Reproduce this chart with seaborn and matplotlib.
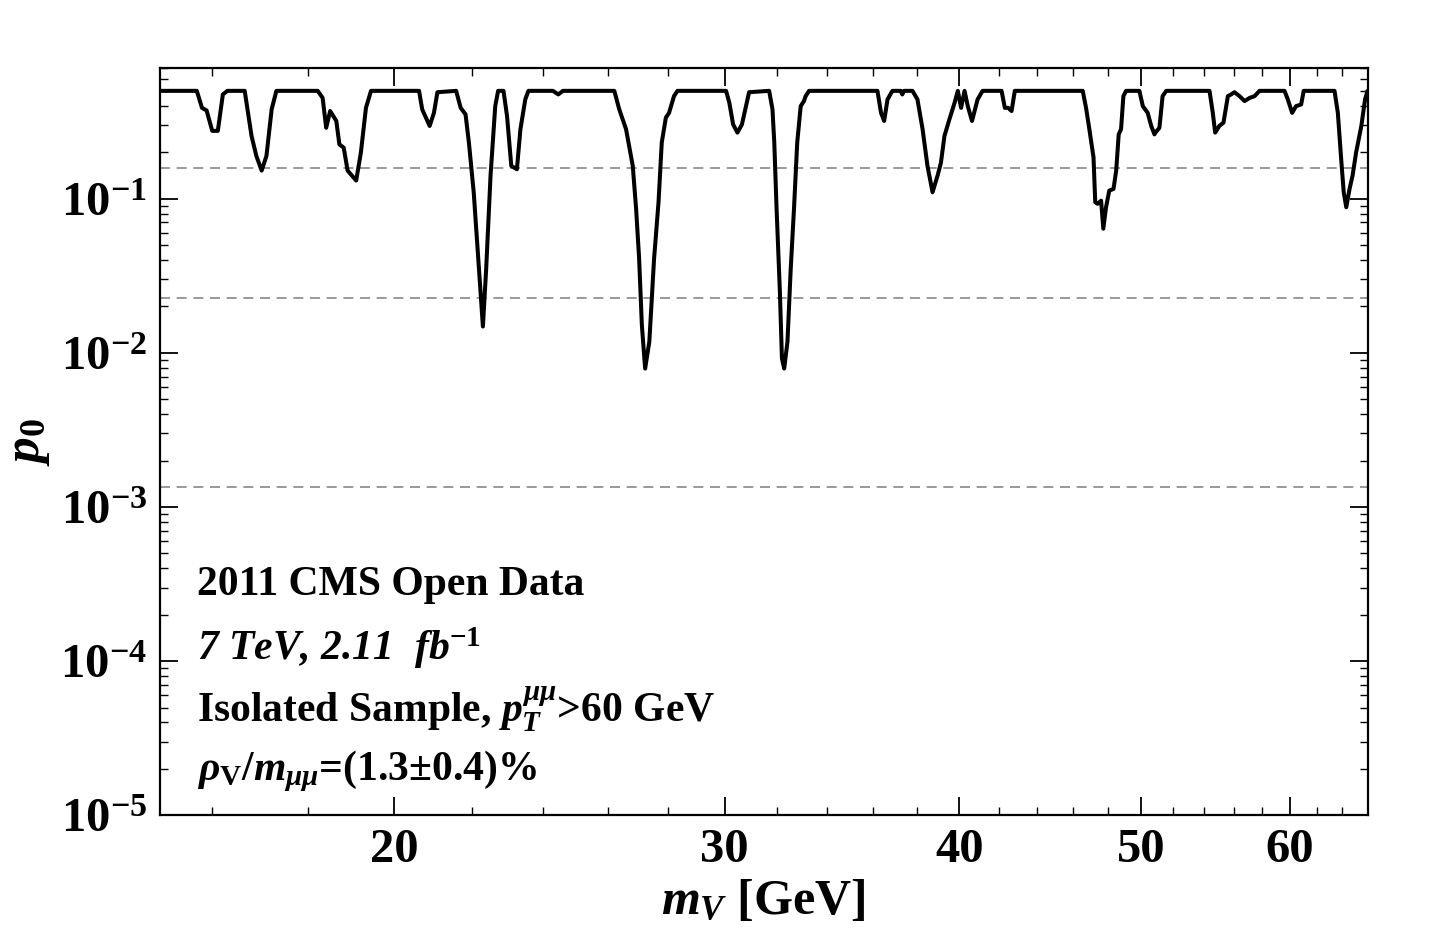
import numpy as np
import pandas as pd
import matplotlib
matplotlib.use('Agg')
import matplotlib.pyplot as plt
import seaborn as sns
from matplotlib.ticker import FixedLocator, NullFormatter, FuncFormatter, LogLocator

# масса резонанса (GeV) и локальное p0
mass = [15.0, 15.70, 15.80, 15.89, 16.00, 16.11, 16.21, 16.30, 16.65, 16.79, 16.89, 17.00, 17.10, 17.21,
        17.31, 18.21, 18.32, 18.40, 18.49, 18.63, 18.70, 18.80, 18.89, 19.09, 19.20, 19.32, 19.44,
        20.62, 20.70, 20.89, 21.00, 21.09, 21.58, 21.70, 21.83, 21.92, 22.05, 22.19, 22.30, 22.39,
        22.51, 22.64, 22.72, 22.87, 22.97, 23.09, 23.25, 23.35, 23.49, 23.58, 24.30, 24.46, 24.60,
        26.20, 26.36, 26.58, 26.80, 26.91, 27.01, 27.10, 27.21, 27.35, 27.51, 27.66, 27.77, 27.91,
        28.02, 28.19, 28.31, 30.05, 30.17, 30.31, 30.47, 30.64, 30.91, 31.68, 31.81, 31.88, 31.97,
        32.10, 32.18, 32.27, 32.40, 32.53, 32.66, 32.79, 32.93, 33.06, 33.13, 33.27, 36.18, 36.34,
        36.48, 36.63, 36.85, 37.23, 37.30, 37.38, 37.77, 38.00, 38.24, 38.47, 38.71, 38.95, 39.11,
        39.28, 39.52, 39.77, 39.93, 40.09, 40.26, 40.42, 40.63, 40.91, 41.16, 42.13, 42.30, 42.47,
        42.65, 42.82, 46.54, 46.73, 46.92, 47.16, 47.26, 47.40, 47.60, 47.73, 47.89, 48.08, 48.33,
        48.49, 48.64, 48.78, 48.92, 49.08, 49.89, 50.10, 50.40, 50.62, 50.82, 50.88, 51.13, 51.33,
        51.56, 54.37, 54.59, 54.75, 55.03, 55.31, 55.61, 55.83, 56.06, 56.41, 56.76, 57.11, 57.46,
        57.81, 59.61, 59.85, 60.17, 60.46, 60.84, 61.03, 63.38, 63.64, 63.90, 64.10, 64.30, 64.56,
        64.80, 65.08, 65.50, 65.80, 66.0]
p0 = [0.5, 0.5, 0.388, 0.373, 0.275, 0.275, 0.474, 0.5, 0.5, 0.255, 0.189, 0.152, 0.189, 0.38,
      0.5, 0.5, 0.45, 0.288, 0.37, 0.319, 0.225, 0.214, 0.152, 0.131, 0.199, 0.388, 0.5,
      0.5, 0.379, 0.296, 0.36, 0.49, 0.5, 0.388, 0.352, 0.231, 0.11, 0.0352, 0.0148, 0.0352,
      0.141, 0.398, 0.5, 0.5, 0.343, 0.163, 0.155, 0.282, 0.44, 0.5, 0.5, 0.474, 0.5,
      0.5, 0.379, 0.282, 0.163, 0.0859, 0.0408, 0.0152, 0.0079, 0.0118, 0.0408, 0.0947, 0.231, 0.335,
      0.36, 0.462, 0.5, 0.5, 0.418, 0.303, 0.268, 0.303, 0.49, 0.5, 0.379, 0.231, 0.0859,
      0.0249, 0.0092, 0.0079, 0.0118, 0.0352, 0.0859, 0.231, 0.398, 0.429, 0.462, 0.5, 0.5, 0.36,
      0.319, 0.44, 0.5, 0.5, 0.474, 0.5, 0.5, 0.44, 0.282, 0.163, 0.11, 0.141, 0.171,
      0.255, 0.327, 0.418, 0.5, 0.388, 0.5, 0.398, 0.319, 0.44, 0.5, 0.5, 0.388, 0.388,
      0.37, 0.5, 0.5, 0.388, 0.282, 0.185, 0.0947, 0.0925, 0.097, 0.0638, 0.0879, 0.1127, 0.1155,
      0.152, 0.261, 0.282, 0.462, 0.5, 0.5, 0.398, 0.36, 0.296, 0.261, 0.268, 0.288, 0.462,
      0.5, 0.5, 0.36, 0.268, 0.296, 0.311, 0.462, 0.474, 0.49, 0.462, 0.429, 0.45, 0.462,
      0.5, 0.5, 0.44, 0.36, 0.398, 0.408, 0.5, 0.5, 0.36, 0.18, 0.11, 0.0879, 0.1155,
      0.141, 0.199, 0.296, 0.44, 0.5]

# уровни 1, 2, 3 сигма
sigma_levels = [0.1587, 0.02275, 0.00135]

x_major = [20, 30, 40, 50, 60]
x_minor = [16, 18, 22, 24, 26, 28, 32, 34, 36, 38, 42, 44, 46, 48, 52, 54, 56, 58, 62, 64]

labels = ['2011 CMS Open Data',
          r'7 TeV, 2.11  fb$^{\mathit{-1}}$',
          r'Isolated Sample, $p_T^{\mu\mu}$>60 GeV',
          r'$\rho_\mathrm{V}/m_{\mu\mu}$=(1.3$\pm$0.4)%']
label_style = ['normal', 'italic', 'normal', 'normal']

df = pd.DataFrame({'m': mass, 'p': p0})

sns.set_style('ticks')
plt.rcParams['font.family'] = ['Liberation Serif', 'DejaVu Serif']
plt.rcParams['mathtext.fontset'] = 'custom'
plt.rcParams['mathtext.rm'] = 'Liberation Serif:bold'
plt.rcParams['mathtext.it'] = 'Liberation Serif:italic:bold'
plt.rcParams['mathtext.bf'] = 'Liberation Serif:bold'
for k in ['text.color', 'axes.labelcolor', 'xtick.color', 'ytick.color', 'axes.edgecolor']:
    plt.rcParams[k] = 'black'

fig = plt.figure(figsize=(14.38, 9.36), dpi=100)
ax = fig.add_axes([0.111, 0.129, 0.84, 0.798])

for s in sigma_levels:
    ax.axhline(s, color='#888888', lw=1.2, ls=(0, (6, 4)), zorder=1)

sns.lineplot(data=df, x='m', y='p', color='black', lw=2.9, sort=False, estimator=None, ax=ax, zorder=3)

ax.set_xscale('log')
ax.set_yscale('log')
ax.set_xlim(15, 66)
ax.set_ylim(1e-5, 0.7)

ax.xaxis.set_major_locator(FixedLocator(x_major))
ax.xaxis.set_major_formatter(FuncFormatter(lambda v, pos: '%d' % v))
ax.xaxis.set_minor_locator(FixedLocator(x_minor))
ax.xaxis.set_minor_formatter(NullFormatter())
ax.yaxis.set_major_locator(LogLocator(base=10, numticks=10))
ax.yaxis.set_major_formatter(FuncFormatter(lambda v, pos: r'$10^{%d}$' % round(np.log10(v))))
ax.yaxis.set_minor_locator(LogLocator(base=10, subs=np.arange(2, 10), numticks=20))
ax.yaxis.set_minor_formatter(NullFormatter())

ax.tick_params(which='both', direction='in', top=True, right=True)
ax.tick_params(which='major', length=13, width=1.3, labelsize=35, pad=9)
ax.tick_params(which='minor', length=6, width=1.0)
for lab in ax.get_xticklabels():
    lab.set_fontweight('bold')
for sp in ax.spines.values():
    sp.set_linewidth(1.6)

ax.set_xlabel(r'$m_V$ [GeV]', fontsize=36, fontweight='bold', labelpad=5)
ax.set_ylabel(r'$p_0$', fontsize=37, labelpad=6)

ypos = [0.2945, 0.2075, 0.1245, 0.047]
for t, yy, st in zip(labels, ypos, label_style):
    ax.text(0.031, yy, t, transform=ax.transAxes, fontsize=30, fontweight='bold',
            fontstyle=st, va='baseline')

fig.savefig('out.png', dpi=100)
